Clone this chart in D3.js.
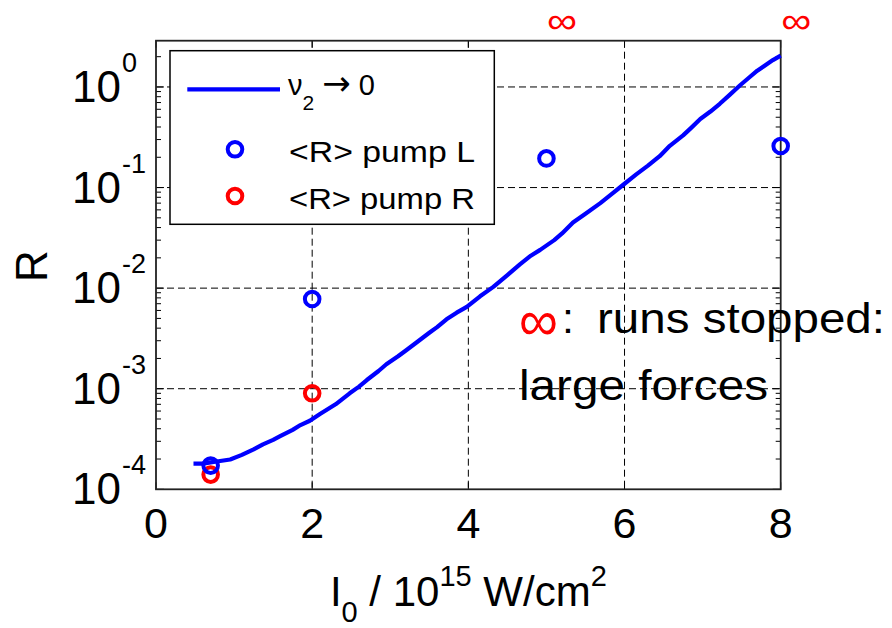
<!DOCTYPE html>
<html><head><meta charset="utf-8">
<script src="https://cdn.jsdelivr.net/npm/d3@7/dist/d3.min.js"></script>
<style>body{margin:0;background:#fff}svg{display:block}text{font-family:"Liberation Sans",Arial,sans-serif}</style>
</head><body><svg id="c" width="892" height="628"></svg>
<script>
// ---- data ----
const curveX = [0.48,0.6,0.7,0.8,0.95,1.1,1.25,1.37,1.5,1.59,1.75,1.85,1.97,2.1,2.3,2.48,2.6,2.7,2.85,2.95,3.1,3.2,3.34,3.5,3.6,3.72,3.85,3.98,4.15,4.32,4.5,4.66,4.8,4.92,5.1,5.2,5.34,5.5,5.69,5.85,5.98,6.15,6.3,6.45,6.58,6.75,6.85,6.97,7.1,7.22,7.35,7.48,7.6,7.7,7.78,7.9,8.0];
const curveR = [1.8e-4,1.8e-4,1.85e-4,1.9e-4,1.98e-4,2.2e-4,2.5e-4,2.8e-4,3.1e-4,3.37e-4,3.9e-4,4.35e-4,4.8e-4,5.6e-4,7.0e-4,9.0e-4,1.05e-3,1.22e-3,1.5e-3,1.75e-3,2.1e-3,2.4e-3,2.9e-3,3.6e-3,4.1e-3,4.9e-3,5.7e-3,6.5e-3,8.3e-3,1.03e-2,1.35e-2,1.72e-2,2.1e-2,2.4e-2,3.0e-2,3.5e-2,4.5e-2,5.5e-2,7.0e-2,8.8e-2,0.106,0.135,0.165,0.205,0.26,0.33,0.39,0.48,0.57,0.68,0.84,1.04,1.25,1.45,1.6,1.85,2.05];
const pumpLX = [0.7, 2, 5, 8];
const pumpLR = [1.72e-4, 7.8e-3, 0.195, 0.259];
const pumpRX = [0.7, 2];
const pumpRR = [1.4e-4, 9.0e-4];
const stoppedX = [5.2, 8.2];
const xTicks = [0, 2, 4, 6, 8];
const yTickExp = [0, -1, -2, -3, -4];
const legendLabels = ["<R> pump L", "<R> pump R"];

// ---- layout ----
const svg = d3.select("#c");
const L = 156, R = 780.7, T = 40.7, B = 489.3;
const x = d3.scaleLinear().domain([0, 8]).range([L, R]);
const y = d3.scaleLog().domain([1e-4, Math.pow(10, 0.46)]).range([B, T]);

// grid
const g = svg.append("g");
g.selectAll(".vg").data(xTicks.filter(d => d > 0 && d < 8)).join("line")
  .attr("x1", d => x(d)).attr("x2", d => x(d)).attr("y1", T).attr("y2", B)
  .attr("stroke", "#000").attr("stroke-width", 1).attr("stroke-dasharray", "7,4");
g.selectAll(".hg").data(yTickExp.filter(e => e > -4)).join("line")
  .attr("x1", L).attr("x2", R).attr("y1", e => y(Math.pow(10, e))).attr("y2", e => y(Math.pow(10, e)))
  .attr("stroke", "#000").attr("stroke-width", 1).attr("stroke-dasharray", "7,4");

// minor & major ticks (inward)
const minor = [];
for (let e = -4; e <= 0; e++) for (let m = 1; m <= 9; m++) { const v = m * Math.pow(10, e); if (v <= y.domain()[1]) minor.push({v, major: m === 1}); }
g.selectAll(".ylt").data(minor).join("line")
  .attr("x1", L).attr("x2", d => L + (d.major ? 8 : 5))
  .attr("y1", d => y(d.v)).attr("y2", d => y(d.v)).attr("stroke", "#000").attr("stroke-width", 1);
g.selectAll(".yrt").data(minor).join("line")
  .attr("x1", R).attr("x2", d => R - (d.major ? 8 : 5))
  .attr("y1", d => y(d.v)).attr("y2", d => y(d.v)).attr("stroke", "#000").attr("stroke-width", 1);
g.selectAll(".xbt").data(xTicks).join("line")
  .attr("x1", d => x(d)).attr("x2", d => x(d)).attr("y1", B).attr("y2", B - 7).attr("stroke", "#000");
g.selectAll(".xtt").data(xTicks).join("line")
  .attr("x1", d => x(d)).attr("x2", d => x(d)).attr("y1", T).attr("y2", T + 7).attr("stroke", "#000");

// box
svg.append("rect").attr("x", L).attr("y", T).attr("width", R - L).attr("height", B - T)
  .attr("fill", "none").attr("stroke", "#222").attr("stroke-width", 1.8);

// x tick labels
svg.selectAll(".xl").data(xTicks).join("text")
  .attr("x", d => x(d)).attr("y", 538).attr("text-anchor", "middle")
  .attr("font-size", 43).text(d => d);

// y tick labels
const yl = svg.selectAll(".yl").data(yTickExp).join("g");
yl.append("text").attr("x", 121).attr("y", e => y(Math.pow(10, e)) + 15)
  .attr("text-anchor", "end").attr("font-size", 44).text("10");
yl.append("text").attr("x", 122).attr("y", e => y(Math.pow(10, e)) - 15)
  .attr("text-anchor", "start").attr("font-size", 27).text(e => e === 0 ? "0" : String(e));

// axis titles
svg.append("text").attr("transform", "translate(47,266) rotate(-90)")
  .attr("text-anchor", "middle").attr("font-size", 44).text("R");
const xt = svg.append("text").attr("x", x(4)).attr("y", 606).attr("text-anchor", "middle").attr("font-size", 42);
xt.append("tspan").text("I");
xt.append("tspan").attr("dy", 16).attr("font-size", 29).text("0");
xt.append("tspan").attr("dy", -16).text(" / 10");
xt.append("tspan").attr("dy", -20).attr("font-size", 29).text("15");
xt.append("tspan").attr("dy", 20).text(" W/cm");
xt.append("tspan").attr("dy", -20).attr("font-size", 29).text("2");

// curve
const line = d3.line().x(d => x(d[0])).y(d => y(d[1]));
svg.append("path").datum(curveX.map((v, i) => [v, curveR[i]]))
  .attr("d", line).attr("fill", "none").attr("stroke", "#0000ff").attr("stroke-width", 4.2)
  .attr("stroke-linejoin", "round");

// markers
svg.selectAll(".pr").data(pumpRX.map((v, i) => [v, pumpRR[i]])).join("circle")
  .attr("cx", d => x(d[0])).attr("cy", d => y(d[1])).attr("r", 7.3)
  .attr("fill", "none").attr("stroke", "#ff0000").attr("stroke-width", 4);
svg.selectAll(".pl").data(pumpLX.map((v, i) => [v, pumpLR[i]])).join("circle")
  .attr("cx", d => x(d[0])).attr("cy", d => y(d[1])).attr("r", 7.3)
  .attr("fill", "none").attr("stroke", "#0000ff").attr("stroke-width", 4);

// infinity markers above
svg.selectAll(".inf").data(stoppedX).join("text")
  .attr("x", d => x(d) - 15).attr("y", 33)
  .attr("textLength", 30).attr("lengthAdjust", "spacingAndGlyphs")
  .attr("font-family", "DejaVu Sans, sans-serif").attr("font-size", 36).attr("fill", "#ff0000").text("∞");

// annotation
svg.append("text").attr("x", 519).attr("y", 340).attr("font-family", "DejaVu Sans, sans-serif")
  .attr("textLength", 39).attr("lengthAdjust", "spacingAndGlyphs")
  .attr("font-size", 57).attr("fill", "#ff0000").text("∞");
svg.append("text").attr("x", 562).attr("y", 333).attr("font-size", 43).text(":");
svg.append("text").attr("x", 597).attr("y", 333).attr("font-size", 43)
  .attr("textLength", 288).attr("lengthAdjust", "spacingAndGlyphs").text("runs stopped:");
svg.append("text").attr("x", 519).attr("y", 400).attr("font-size", 43)
  .attr("textLength", 249).attr("lengthAdjust", "spacingAndGlyphs").text("large forces");

// legend
const lg = svg.append("g");
lg.append("rect").attr("x", 170).attr("y", 50.7).attr("width", 324.3).attr("height", 173.6)
  .attr("fill", "#fff").attr("stroke", "#000").attr("stroke-width", 1.5);
lg.append("line").attr("x1", 187.3).attr("x2", 280).attr("y1", 89.3).attr("y2", 89.3)
  .attr("stroke", "#0000ff").attr("stroke-width", 4.2);
const l1 = lg.append("text").attr("x", 288).attr("y", 95).attr("font-size", 29);
l1.append("tspan").text("ν");
l1.append("tspan").attr("dy", 15).attr("font-size", 21).text("2");
l1.append("tspan").attr("dy", -15).text(" ");
l1.append("tspan").attr("font-family", "DejaVu Sans, sans-serif").attr("font-size", 34).text("→");
l1.append("tspan").text(" 0");
const legColors = ["#0000ff", "#ff0000"];
const legY = [149.3, 196];
legendLabels.forEach((t, i) => {
  lg.append("circle").attr("cx", 235).attr("cy", legY[i]).attr("r", 7.3)
    .attr("fill", "none").attr("stroke", legColors[i]).attr("stroke-width", 4);
  lg.append("text").attr("x", 289).attr("y", legY[i] + 13).attr("font-size", 29)
    .attr("textLength", 186).attr("lengthAdjust", "spacingAndGlyphs").text(t);
});
</script></body></html>
